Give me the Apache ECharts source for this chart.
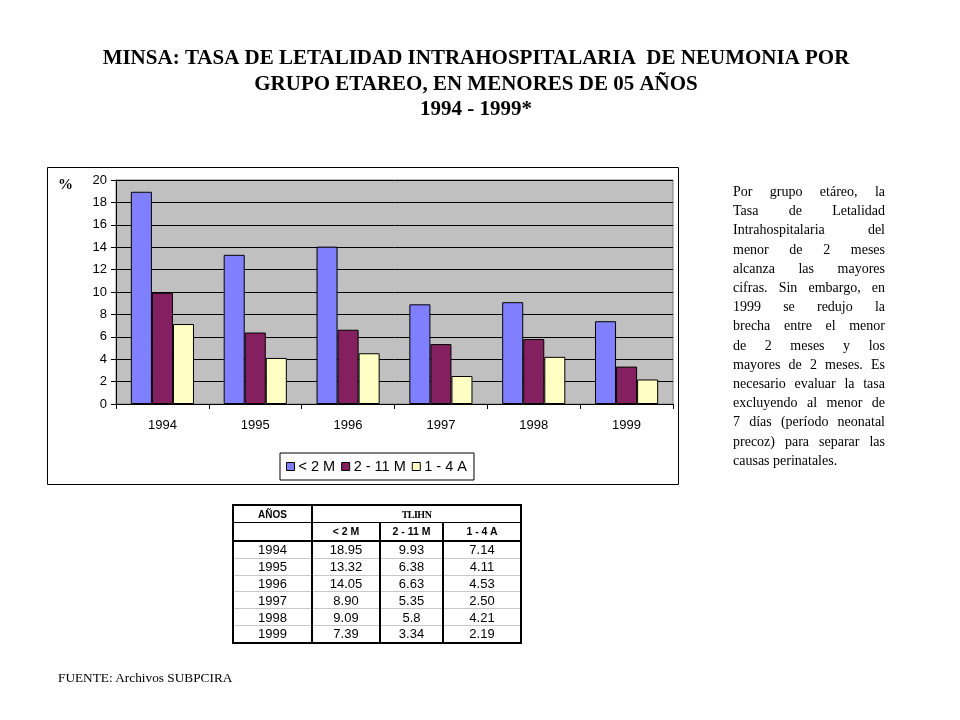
<!DOCTYPE html>
<html>
<head>
<meta charset="utf-8">
<script src="https://cdn.jsdelivr.net/npm/echarts@6/dist/echarts.min.js"></script>
<style>
  html, body { margin: 0; padding: 0; background: #fff; }
  #wrap { position: relative; width: 960px; height: 720px; overflow: hidden; }
  #chart { position: absolute; left: 0; top: 0; width: 960px; height: 720px; }
  #para { position: absolute; left: 733px; top: 182px; width: 152px;
          font-family: "Liberation Serif", "Times New Roman", serif; font-size: 14px; line-height: 19.2px; color: #000; }
  #para div { text-align: justify; text-align-last: justify; white-space: nowrap; }
  #para div.last { text-align-last: left; }
  #tbl { position: absolute; left: 232px; top: 504px; border-collapse: collapse;
         border: 2px solid #000; font-family: "Liberation Sans", Arial, sans-serif; color: #000; }
  #tbl td { padding: 0; text-align: center; border-left: 2px solid #000; border-right: 2px solid #000;
            border-top: 1px solid #c8c8c8; font-size: 13px; height: 15.8px; line-height: 15px; }
  #tbl tr.h1 td { height: 16px; font-size: 10px; font-weight: bold; border-bottom: 1px solid #000; }
  #tbl tr.h2 td { height: 17px; font-size: 10.5px; font-weight: bold; border-bottom: 2px solid #000; }
  #tbl td.tl { font-family: "Liberation Serif", serif; font-size: 11px; letter-spacing: -0.5px; }
  #src { position: absolute; left: 58px; top: 670px; font-family: "Liberation Serif", serif; font-size: 13.3px; color: #000; }
</style>
</head>
<body>
<div id="wrap">
  <div id="chart"></div>
  <div id="para"></div>
  <table id="tbl"></table>
  <div id="src">FUENTE: Archivos SUBPCIRA</div>
</div>
<script>
const titleLines = [
  'MINSA: TASA DE LETALIDAD INTRAHOSPITALARIA  DE NEUMONIA POR',
  'GRUPO ETAREO, EN MENORES DE 05 AÑOS',
  '1994 - 1999*'
];
const years = ['1994', '1995', '1996', '1997', '1998', '1999'];
const seriesNames = ['< 2 M', '2 - 11 M', '1 - 4 A'];
const lt2m = ['18.95', '13.32', '14.05', '8.90', '9.09', '7.39'];
const m2to11 = ['9.93', '6.38', '6.63', '5.35', '5.8', '3.34'];
const a1to4 = ['7.14', '4.11', '4.53', '2.50', '4.21', '2.19'];
const seriesColors = ['#8080ff', '#84205f', '#ffffc4'];
const paraLines = [
  'Por grupo etáreo, la',
  'Tasa de Letalidad',
  'Intrahospitalaria del',
  'menor de 2 meses',
  'alcanza las mayores',
  'cifras. Sin embargo, en',
  '1999 se redujo la',
  'brecha entre el menor',
  'de 2 meses y los',
  'mayores de 2 meses. Es',
  'necesario evaluar la tasa',
  'excluyendo al menor de',
  '7 días (período neonatal',
  'precoz) para separar las',
  'causas perinatales.'
];
const tableHeadYear = 'AÑOS';
const tableHeadGroup = 'TLIHN';

// paragraph
const para = document.getElementById('para');
paraLines.forEach((t, i) => {
  const d = document.createElement('div');
  d.textContent = t;
  if (i === paraLines.length - 1) d.className = 'last';
  para.appendChild(d);
});

// table
const colW = [77, 66, 61, 76];
const tbl = document.getElementById('tbl');
let html = '<tr class="h1"><td style="width:' + colW[0] + 'px">' + tableHeadYear + '</td><td class="tl" colspan="3">' + tableHeadGroup + '</td></tr>';
html += '<tr class="h2"><td></td>' + seriesNames.map((n, i) => '<td style="width:' + colW[i + 1] + 'px">' + n + '</td>').join('') + '</tr>';
years.forEach((y, i) => {
  html += '<tr><td>' + y + '</td><td>' + lt2m[i] + '</td><td>' + m2to11[i] + '</td><td>' + a1to4[i] + '</td></tr>';
});
tbl.innerHTML = html;

const chart = echarts.init(document.getElementById('chart'), null, { renderer: 'canvas' });
const values = [lt2m, m2to11, a1to4];
const axisFont = { fontFamily: 'Liberation Sans, Arial, sans-serif', fontSize: 13, color: '#000' };

chart.setOption({
  backgroundColor: '#fff',
  animation: false,
  title: {
    text: titleLines.join('\n'),
    left: 471, top: 41, textAlign: 'center',
    textStyle: { fontFamily: 'Liberation Serif, Times New Roman, serif', fontWeight: 'bold', fontSize: 21, lineHeight: 25.5, color: '#000' }
  },
  graphic: [
    { type: 'rect', shape: { x: 47.5, y: 167.5, width: 631, height: 317 }, style: { fill: 'none', stroke: '#000', lineWidth: 1 }, z: -1 },
    { type: 'text', left: 58, top: 178, style: { text: '%', font: 'bold 15px "Liberation Serif", serif', fill: '#000' } }
  ],
  legend: {
    left: 280, top: 453,
    padding: [6, 7, 6, 6],
    itemWidth: 8, itemHeight: 8, itemGap: 6,
    borderColor: '#000', borderWidth: 1,
    icon: 'rect',
    textStyle: { fontFamily: 'Liberation Sans, Arial, sans-serif', fontSize: 14.5, color: '#000', padding: [0, 0, 0, -1] },
    data: seriesNames.map(n => ({ name: n, itemStyle: { borderColor: '#000', borderWidth: 1 } }))
  },
  grid: {
    left: 116, top: 180, width: 557, height: 224,
    show: true, backgroundColor: '#c0c0c0', borderColor: '#808080', borderWidth: 1
  },
  xAxis: {
    type: 'category', data: years,
    axisLine: { lineStyle: { color: '#000', width: 1 } },
    axisTick: { show: true, length: 5, lineStyle: { color: '#000' }, alignWithLabel: false },
    axisLabel: Object.assign({ margin: 15 }, axisFont),
    splitLine: { show: false }
  },
  yAxis: {
    type: 'value', min: 0, max: 20, interval: 2,
    axisLine: { show: true, lineStyle: { color: '#000', width: 1 } },
    axisTick: { show: true, length: 5, lineStyle: { color: '#000' } },
    axisLabel: Object.assign({ margin: 9 }, axisFont),
    splitLine: { show: true, lineStyle: { color: '#000', width: 1 } }
  },
  series: seriesNames.map((n, i) => ({
    name: n, type: 'bar',
    data: values[i],
    barGap: '0%', barCategoryGap: '32%',
    itemStyle: { color: seriesColors[i], borderColor: '#000', borderWidth: 1 },
    emphasis: { disabled: true }
  }))
});
</script>
</body>
</html>
